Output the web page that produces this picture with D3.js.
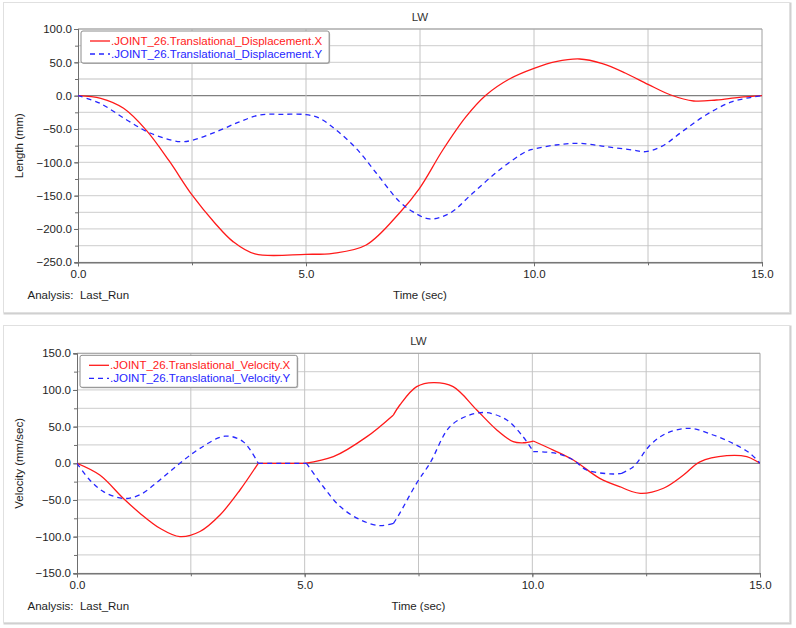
<!DOCTYPE html>
<html>
<head>
<meta charset="utf-8">
<script src="https://cdn.jsdelivr.net/npm/d3@7"></script>
<style>
  body { margin: 0; background: #fff; }
  svg { display: block; font-family: "Liberation Sans", Arial, sans-serif; }
</style>
</head>
<body>
<svg id="chart" width="796" height="628"></svg>
<script>
// displacement (mm)
var dispXTime = [0, 0.5, 1.0, 1.5, 2.0, 2.5, 3.0, 3.4, 3.88, 5.0, 5.59, 6.32, 7.05, 7.49, 8.0, 8.51, 8.95, 9.46, 10.0, 10.48, 11.0, 11.5, 12.0, 12.5, 13.0, 13.5, 14.0, 14.5, 15];
var dispX     = [0, -4, -19, -52, -98, -149, -191, -219, -237.5, -238, -236.5, -224, -176, -139, -81.5, -31.5, 1, 25, 41, 51, 55, 48, 34, 17, 1, -8, -6.5, -2.5, 0];
var dispYTime = [0, 0.48, 1.07, 1.58, 2.23, 2.5, 3.04, 3.55, 3.99, 4.5, 5.0, 5.3, 5.66, 6.1, 6.54, 7.05, 7.34, 7.71, 8.15, 8.66, 9.24, 9.82, 10.0, 10.48, 11.0, 11.58, 12.16, 12.45, 12.8, 13.25, 13.77, 14.35, 15];
var dispY     = [0, -11.4, -36.5, -56, -69, -67, -54, -39, -29, -28, -28.5, -34, -51.5, -79, -116, -159, -174, -185, -176.5, -146, -111.5, -84, -80, -74, -71.5, -76.5, -81.5, -84, -76, -54, -29, -9, 0];

// velocity (mm/sec)
var velXTime = [0, 0.5, 1.02, 1.38, 1.82, 2.26, 2.7, 3.14, 3.58, 3.98, 4.5, 5.0, 5.63, 6.36, 6.95, 7.09, 7.46, 7.83, 8.26, 8.78, 9.22, 9.58, 9.8, 10.02, 10.46, 10.9, 11.48, 11.93, 12.37, 12.88, 13.32, 13.68, 14.27, 14.71, 15];
var velX     = [0, -16, -48, -68, -88.6, -100, -93, -70.5, -36.4, 0, 0, 0, 9, 36, 66, 79.5, 104.5, 110, 104.5, 72.7, 45.5, 29.5, 28, 30.4, 18, 4.5, -20.5, -32, -41, -34, -16, 2, 10.4, 9, 0];
var velYTime = [0, 0.28, 0.58, 1.02, 1.38, 1.82, 2.26, 2.7, 3.25, 3.65, 3.98, 4.5, 5.04, 5.41, 5.78, 6.22, 6.65, 6.95, 7.09, 7.46, 7.75, 8.19, 8.63, 9.0, 9.44, 9.8, 10.02, 10.53, 10.9, 11.19, 11.78, 11.96, 12.22, 12.59, 12.95, 13.46, 13.97, 14.41, 14.78, 15];
var velY     = [0, -22.7, -38.6, -48, -43, -22.7, 0, 20.4, 37, 29.5, 0, 0, 0, -32, -59, -77, -85, -82, -68, -27, 0, 50, 66, 69, 59, 36, 16, 13.6, 4.5, -9, -14.6, -13.6, -4.6, 25, 41, 47.7, 38.6, 27, 13.6, 0];

// times where the velocity curves have a corner
var velXKinks = [3.98, 5.0, 6.95, 10.02, 11.93];
var velYKinks = [3.98, 5.04, 6.95, 10.02, 11.96];

var xTicks = [0, 5, 10, 15];
var xMinor = [0, 2.5, 5, 7.5, 10, 12.5, 15];
var dispTicks = [-250, -200, -150, -100, -50, 0, 50, 100];
var velTicks = [-150, -100, -50, 0, 50, 100, 150];

var dispNames = [".JOINT_26.Translational_Displacement.X", ".JOINT_26.Translational_Displacement.Y"];
var velNames = [".JOINT_26.Translational_Velocity.X", ".JOINT_26.Translational_Velocity.Y"];

var svg = d3.select("#chart");
var fs = "11.5px";

// cut a series into pieces at its corner times
function pieces(ts, vs, kinks) {
    var out = [], cur = [];
    ts.forEach(function(t, i) {
        cur.push([t, vs[i]]);
        if (kinks.indexOf(t) >= 0) { out.push(cur); cur = [[t, vs[i]]]; }
    });
    out.push(cur);
    return out;
}

function drawPanel(p) {
    var g = svg.append("g");
    // outer frame
    g.append("rect").attr("x", p.box[0]+1).attr("y", p.box[1]+1)
        .attr("width", p.box[2]).attr("height", p.box[3])
        .attr("fill", "none").attr("stroke", "#d0d0d0").attr("stroke-width", 2);
    g.append("rect").attr("x", p.box[0]).attr("y", p.box[1])
        .attr("width", p.box[2]).attr("height", p.box[3])
        .attr("fill", "#fff").attr("stroke", "#e0e0e0");

    var x = d3.scaleLinear().domain([0, 15]).range([p.l, p.r]);
    var y = d3.scaleLinear().domain(p.yDom).range([p.b, p.t]);
    var yMinor = d3.range(p.yDom[0], p.yDom[1] + 1, 25);

    // grid
    g.selectAll(".hg").data(yMinor).enter().append("line")
        .attr("x1", p.l).attr("x2", p.r).attr("y1", d=>y(d)).attr("y2", d=>y(d))
        .attr("stroke", d=>d==0 ? "#808080" : "#d6d6d6").attr("stroke-width", d=>d==0 ? 1.2 : 1.3);
    g.selectAll(".vg").data(xMinor.slice(1, -1)).enter().append("line")
        .attr("y1", p.t).attr("y2", p.b).attr("x1", d=>x(d)).attr("x2", d=>x(d))
        .attr("stroke", "#c4c4c4");

    // frame of plot area
    g.append("line").attr("x1", p.l).attr("x2", p.r).attr("y1", p.t).attr("y2", p.t).attr("stroke", "#a0a0a0");
    g.append("line").attr("x1", p.r).attr("x2", p.r).attr("y1", p.t).attr("y2", p.b).attr("stroke", "#a0a0a0");

    // axes
    var ya = g.append("g").attr("transform", "translate(" + p.l + ",0)")
        .call(d3.axisLeft(y).tickValues(p.yTicks).tickSize(4).tickPadding(2).tickFormat(d3.format(".1f")));
    var ym = g.append("g").attr("transform", "translate(" + p.l + ",0)")
        .call(d3.axisLeft(y).tickValues(yMinor).tickSize(3).tickFormat(""));
    var xa = g.append("g").attr("transform", "translate(0," + p.b + ")")
        .call(d3.axisBottom(x).tickValues(xTicks).tickSize(4).tickPadding(4).tickFormat(d3.format(".1f")));
    var xm = g.append("g").attr("transform", "translate(0," + p.b + ")")
        .call(d3.axisBottom(x).tickValues(xMinor).tickSize(3).tickFormat(""));
    [ya, ym, xa, xm].forEach(function(a) {
        a.select(".domain").attr("stroke", "#6e6e6e");
        a.selectAll(".tick line").attr("stroke", "#6e6e6e");
        a.selectAll("text").attr("font-size", fs).attr("font-family", "inherit").attr("fill", "#1e1e1e");
    });

    // lines
    var mk = d3.line().x(d=>x(d[0])).y(d=>y(d[1])).curve(d3.curveCatmullRom.alpha(0.5));
    var clip = "clip" + p.id;
    g.append("clipPath").attr("id", clip).append("rect")
        .attr("x", p.l).attr("y", p.t).attr("width", p.r - p.l).attr("height", p.b - p.t);
    p.series.forEach(function(s) {
        var d = pieces(s.t, s.v, s.kinks).map(mk).join("");
        g.append("path").attr("d", d)
            .attr("clip-path", "url(#" + clip + ")")
            .attr("fill", "none").attr("stroke", s.color).attr("stroke-width", 1.3)
            .attr("stroke-dasharray", s.dash);
    });

    // texts
    var cx = (p.l + p.r) / 2;
    g.append("text").attr("x", cx).attr("y", p.t - 8).attr("text-anchor", "middle")
        .attr("font-size", fs).attr("fill", "#333").text("LW");
    g.append("text").attr("x", cx).attr("y", p.b + 37).attr("text-anchor", "middle")
        .attr("font-size", fs).attr("fill", "#1e1e1e").text("Time (sec)");
    g.append("text").attr("x", p.box[0] + 24).attr("y", p.b + 37)
        .attr("font-size", fs).attr("fill", "#1e1e1e").style("white-space", "pre")
        .text("Analysis:  Last_Run");
    g.append("text").attr("transform", "translate(23," + ((p.t + p.b) / 2) + ") rotate(-90)")
        .attr("text-anchor", "middle").attr("font-size", fs).attr("fill", "#1e1e1e").text(p.yLabel);

    // legend
    var lg = g.append("g").attr("transform", "translate(" + (p.l + 3) + "," + (p.t + 2) + ")");
    var sh = lg.append("rect").attr("x", 1).attr("y", 1).attr("rx", 2)
        .attr("fill", "#bdbdbd");
    var bx = lg.append("rect").attr("x", 0).attr("y", 0).attr("rx", 2)
        .attr("fill", "#fff").attr("stroke", "#8c8c8c");
    var maxW = 0;
    p.series.forEach(function(s, i) {
        var yy = 10 + i * 13;
        lg.append("line").attr("x1", 9).attr("x2", 29).attr("y1", yy).attr("y2", yy)
            .attr("stroke", s.color).attr("stroke-width", 1.3).attr("stroke-dasharray", s.dash);
        var t = lg.append("text").attr("x", 30).attr("y", yy + 4)
            .attr("font-size", fs).attr("fill", s.color).text(s.name);
        maxW = Math.max(maxW, t.node().getComputedTextLength());
    });
    var w = 30 + maxW + 7, h = p.legH;
    sh.attr("width", w).attr("height", h);
    bx.attr("width", w).attr("height", h);
}

drawPanel({
    id: 1, box: [3.5, 2.5, 786, 310], l: 78, r: 762, t: 29, b: 262.3,
    yDom: [-250, 100], yTicks: dispTicks, yLabel: "Length (mm)", legH: 32,
    series: [
        { t: dispXTime, v: dispX, kinks: [], color: "#ff1a1a", dash: null, name: dispNames[0] },
        { t: dispYTime, v: dispY, kinks: [], color: "#2626ff", dash: "5,4", name: dispNames[1] }
    ]
});

drawPanel({
    id: 2, box: [3.5, 325.5, 786, 297], l: 77, r: 760, t: 353.3, b: 573.3,
    yDom: [-150, 150], yTicks: velTicks, yLabel: "Velocity (mm/sec)", legH: 32,
    series: [
        { t: velXTime, v: velX, kinks: velXKinks, color: "#ff1a1a", dash: null, name: velNames[0] },
        { t: velYTime, v: velY, kinks: velYKinks, color: "#2626ff", dash: "5,4", name: velNames[1] }
    ]
});
</script>
</body>
</html>
